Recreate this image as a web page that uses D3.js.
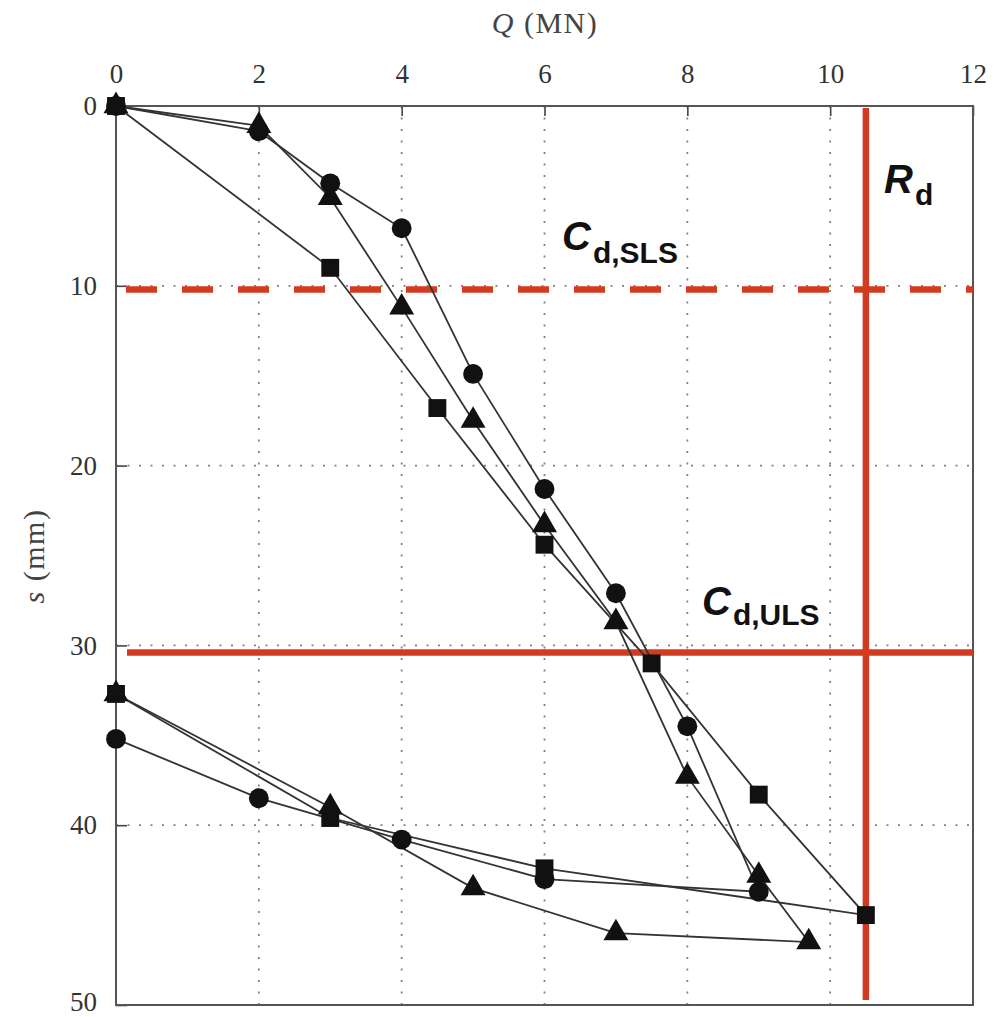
<!DOCTYPE html>
<html>
<head>
<meta charset="utf-8">
<script src="https://cdn.jsdelivr.net/npm/d3@7"></script>
<style>
  html, body { margin: 0; padding: 0; background: #fff; }
  svg { display: block; }
</style>
</head>
<body>
<svg id="chart" width="995" height="1017"></svg>
<script>
// ---- data ----
const xTicks = [0, 2, 4, 6, 8, 10, 12];
const yTicks = [0, 10, 20, 30, 40, 50];

// circle series (load then unload)
const circleQ = [0, 2, 3, 4, 5, 6, 7, 8, 9, 6, 4, 2, 0];
const circleS = [0, 1.4, 4.3, 6.8, 14.9, 21.3, 27.1, 34.5, 43.7, 43.0, 40.8, 38.5, 35.2];

// triangle series
const triangleQ = [0, 2, 3, 4, 5, 6, 7, 8, 9, 9.7, 7, 5, 3, 0];
const triangleS = [0, 1.1, 5.1, 11.2, 17.5, 23.3, 28.7, 37.3, 42.8, 46.5, 46.0, 43.5, 39.0, 32.7];

// square series
const squareQ = [0, 3, 4.5, 6, 7.5, 9, 10.5, 6, 3, 0];
const squareS = [0, 9.0, 16.8, 24.4, 31.0, 38.3, 45.0, 42.4, 39.6, 32.7];

// design values
const CdSLS = 10.2;   // mm
const CdULS = 30.4;   // mm
const Rd = 10.5;      // MN

// ---- layout ----
(function () {
const svg = d3.select("#chart");
const pL = 116, pR = 973, pT = 106, pB = 1005;
const x = d3.scaleLinear().domain([0, 12]).range([pL, pR]);
const y = d3.scaleLinear().domain([0, 50]).range([pT, pB]);
const red = "#d23b1f";
const serif = "'Liberation Serif', 'Times New Roman', serif";
const sans = "'Liberation Sans', Arial, sans-serif";

// grid (dotted)
const grid = svg.append("g");
grid.selectAll("line.vx").data(xTicks.filter(d => d > 0 && d < 12)).join("line")
  .attr("x1", d => x(d)).attr("x2", d => x(d))
  .attr("y1", pT).attr("y2", pB)
  .attr("stroke", "#808080").attr("stroke-width", 1.8)
  .attr("stroke-dasharray", "2,9.5");
grid.selectAll("line.hy").data(yTicks.filter(d => d > 0 && d < 50)).join("line")
  .attr("x1", pL).attr("x2", pR)
  .attr("y1", d => y(d)).attr("y2", d => y(d))
  .attr("stroke", "#808080").attr("stroke-width", 1.8)
  .attr("stroke-dasharray", "2,9.5");

// axes
const xAxis = d3.axisTop(x).tickValues(xTicks).tickSizeInner(-10).tickSizeOuter(0).tickPadding(23);
const yAxis = d3.axisLeft(y).tickValues(yTicks).tickSizeInner(-11).tickSizeOuter(0).tickPadding(19);
const gx = svg.append("g").attr("transform", `translate(0,${pT})`).call(xAxis);
const gy = svg.append("g").attr("transform", `translate(${pL},0)`).call(yAxis);
[gx, gy].forEach(g => {
  g.select(".domain").remove();
  g.selectAll(".tick line").attr("stroke", "#444").attr("stroke-width", 1.6);
  g.selectAll(".tick text").attr("font-family", serif).attr("font-size", 27).attr("fill", "#333");
});
gy.selectAll(".tick text").filter(d => d === 50).attr("dy", "0.2em");

// frame
svg.append("rect").attr("x", pL).attr("y", pT)
  .attr("width", pR - pL).attr("height", pB - pT)
  .attr("fill", "none").attr("stroke", "#555").attr("stroke-width", 2);

// axis titles
svg.append("text").attr("x", 545).attr("y", 33).attr("text-anchor", "middle")
  .attr("font-family", serif).attr("font-size", 30).attr("letter-spacing", 1.5).attr("fill", "#444")
  .call(t => {
    t.append("tspan").attr("font-style", "italic").text("Q");
    t.append("tspan").text(" (MN)");
  });
svg.append("text").attr("transform", "translate(44,556) rotate(-90)").attr("text-anchor", "middle")
  .attr("font-family", serif).attr("font-size", 30).attr("letter-spacing", 1.5).attr("fill", "#444")
  .call(t => {
    t.append("tspan").attr("font-style", "italic").text("s");
    t.append("tspan").text(" (mm)");
  });

// red design lines
svg.append("line").attr("x1", pL + 10).attr("x2", pR)
  .attr("y1", y(CdSLS)).attr("y2", y(CdSLS))
  .attr("stroke", red).attr("stroke-width", 6.5).attr("stroke-dasharray", "31,25");
svg.append("line").attr("x1", pL + 11).attr("x2", pR)
  .attr("y1", y(CdULS)).attr("y2", y(CdULS))
  .attr("stroke", red).attr("stroke-width", 6.5);
svg.append("line").attr("x1", x(Rd)).attr("x2", x(Rd))
  .attr("y1", pT + 2).attr("y2", 1000)
  .attr("stroke", red).attr("stroke-width", 6.5);

// series lines
const line = d3.line().x(d => x(d[0])).y(d => y(d[1]));
const series = [
  { q: circleQ, s: circleS, type: d3.symbolCircle, size: 310 },
  { q: triangleQ, s: triangleS, type: d3.symbolTriangle, size: 270 },
  { q: squareQ, s: squareS, type: d3.symbolSquare, size: 320 }
];
series.forEach(sr => {
  const pts = sr.q.map((q, i) => [q, sr.s[i]]);
  svg.append("path").datum(pts).attr("d", line)
    .attr("fill", "none").attr("stroke", "#333").attr("stroke-width", 1.8);
});
series.forEach(sr => {
  const pts = sr.q.map((q, i) => [q, sr.s[i]]);
  const sym = d3.symbol().type(sr.type).size(sr.size);
  svg.append("g").selectAll("path").data(pts).join("path")
    .attr("transform", d => `translate(${x(d[0])},${y(d[1])})`)
    .attr("d", sym).attr("fill", "#111");
});

// annotations
function label(xp, yp, main, sub, dy) {
  const t = svg.append("text").attr("x", xp).attr("y", yp)
    .attr("font-family", sans).attr("font-weight", "bold").attr("fill", "#111");
  t.append("tspan").attr("font-style", "italic").attr("font-size", 40).text(main);
  t.append("tspan").attr("font-size", 30).attr("dx", 2).attr("dy", dy).text(sub);
}
label(884, 193, "R", "d", 12);
label(562, 250, "C", "d,SLS", 13);
label(702, 615, "C", "d,ULS", 10);
})();
</script>
</body>
</html>
